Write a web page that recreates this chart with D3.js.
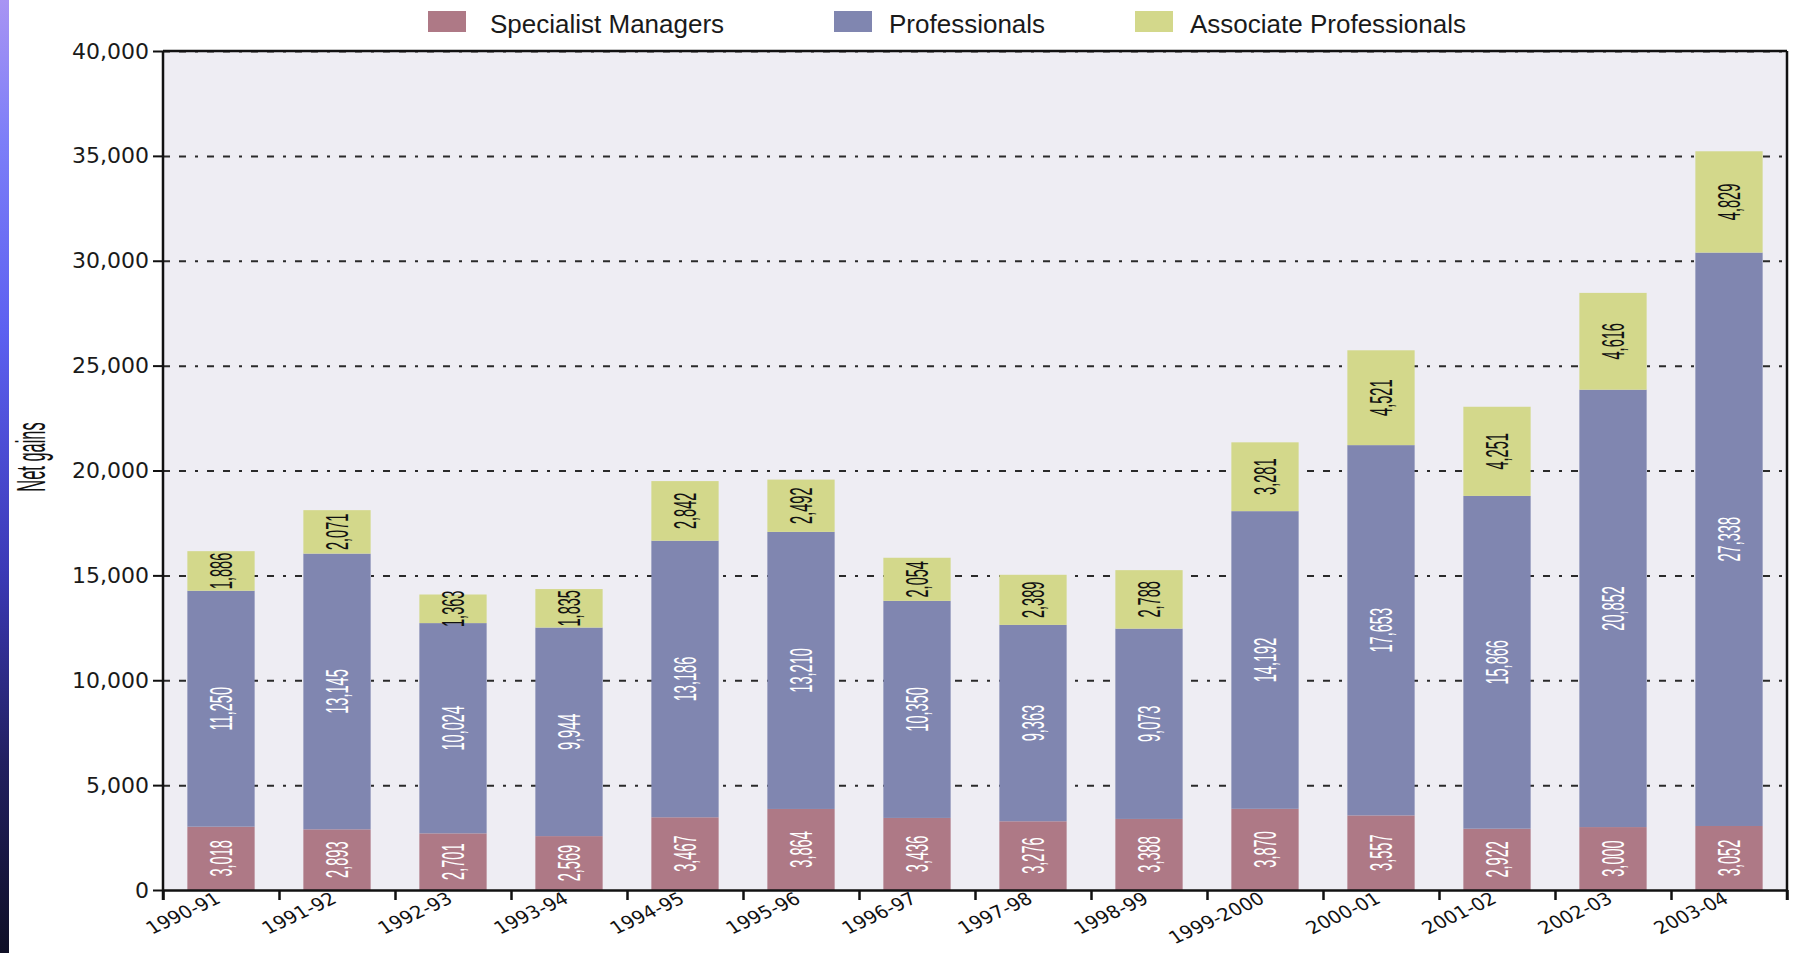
<!DOCTYPE html>
<html>
<head>
<meta charset="utf-8">
<script src="https://cdn.jsdelivr.net/npm/d3@7"></script>
<style>
  html, body { margin: 0; padding: 0; background: #fff; }
  svg { display: block; }
</style>
</head>
<body>
<script>
// data
const categories = ["1990-91", "1991-92", "1992-93", "1993-94", "1994-95", "1995-96", "1996-97",
  "1997-98", "1998-99", "1999-2000", "2000-01", "2001-02", "2002-03", "2003-04"];
const specialistManagers = [3018, 2893, 2701, 2569, 3467, 3864, 3436, 3276, 3388, 3870, 3557, 2922, 3000, 3052];
const professionals = [11250, 13145, 10024, 9944, 13186, 13210, 10350, 9363, 9073, 14192, 17653, 15866, 20852, 27338];
const associateProfessionals = [1886, 2071, 1363, 1835, 2842, 2492, 2054, 2389, 2788, 3281, 4521, 4251, 4616, 4829];
const seriesNames = ["Specialist Managers", "Professionals", "Associate Professionals"];
const seriesColors = ["#ae7986", "#8086b0", "#d3d88b"];
const labelColors = ["#fff", "#fff", "#111"];
const yTicks = [0, 5000, 10000, 15000, 20000, 25000, 30000, 35000, 40000];
const yTitle = "Net gains";

const W = 1798, H = 953;
const plot = { left: 163, right: 1787, top: 51, bottom: 890 };
const legendX = [428, 834, 1135];

const svg = d3.select("body")
  .append("svg")
  .attr("width", W)
  .attr("height", H);

// blue strip down the left edge
const grad = svg.append("defs")
  .append("linearGradient")
  .attr("id", "edge")
  .attr("x1", 0).attr("y1", 0).attr("x2", 0).attr("y2", 1);
[[0, "#a894f3"], [0.15, "#7c7ef8"], [0.35, "#5c60f0"], [0.6, "#3b39b6"], [0.8, "#222060"], [1, "#0f0f26"]]
  .forEach(s => grad.append("stop").attr("offset", s[0]).attr("stop-color", s[1]));
svg.append("rect")
  .attr("x", 0).attr("y", 0)
  .attr("width", 9).attr("height", H)
  .attr("fill", "url(#edge)");

// scales
const x = d3.scaleBand()
  .domain(categories)
  .range([plot.left, plot.right])
  .paddingInner(0.42)
  .paddingOuter(0.21);
const y = d3.scaleLinear()
  .domain([0, 40000])
  .range([plot.bottom, plot.top]);
const xEdges = d3.scaleLinear()
  .domain([0, categories.length])
  .range([plot.left, plot.right]);

// plot background
svg.append("rect")
  .attr("x", plot.left).attr("y", plot.top)
  .attr("width", plot.right - plot.left)
  .attr("height", plot.bottom - plot.top)
  .attr("fill", "#eeedf3");

// grid lines
svg.append("g")
  .attr("transform", `translate(${plot.left},0)`)
  .call(d3.axisLeft(y).tickValues(yTicks.slice(1)).tickSize(-(plot.right - plot.left)).tickFormat(""))
  .call(g => g.select(".domain").remove())
  .selectAll("line")
  .attr("stroke", "#2a2a2a")
  .attr("stroke-width", 2)
  .attr("stroke-dasharray", "7,9,7,9,3,9");

// stacked bars
const rows = categories.map((c, i) => ({
  cat: c,
  [seriesNames[0]]: specialistManagers[i],
  [seriesNames[1]]: professionals[i],
  [seriesNames[2]]: associateProfessionals[i]
}));
const stacked = d3.stack().keys(seriesNames)(rows);

const layers = svg.append("g")
  .selectAll("g")
  .data(stacked)
  .join("g")
  .attr("fill", (d, i) => seriesColors[i]);

layers.selectAll("rect")
  .data(d => d)
  .join("rect")
  .attr("x", d => x(d.data.cat))
  .attr("y", d => y(d[1]))
  .attr("width", x.bandwidth())
  .attr("height", d => y(d[0]) - y(d[1]));

// value labels inside the segments (tall, narrow rotated text)
const fmt = d3.format(",");
svg.append("g")
  .selectAll("g")
  .data(stacked)
  .join("g")
  .attr("fill", (d, i) => labelColors[i])
  .selectAll("text")
  .data(d => d)
  .join("text")
  .attr("transform", d =>
    `translate(${x(d.data.cat) + x.bandwidth() / 2},${(y(d[0]) + y(d[1])) / 2}) rotate(-90) scale(0.47,1)`)
  .attr("text-anchor", "middle")
  .attr("dy", "0.36em")
  .style("font-family", "'Liberation Sans', Arial, sans-serif")
  .style("font-size", "31px")
  .text(d => fmt(d[1] - d[0]));

// x axis: ticks on the band edges
svg.append("g")
  .attr("transform", `translate(0,${plot.bottom})`)
  .call(d3.axisBottom(xEdges).tickValues(d3.range(0, categories.length + 1)).tickSize(10).tickSizeOuter(0).tickFormat(""))
  .call(g => g.select(".domain").attr("stroke", "#111").attr("stroke-width", 2.5))
  .selectAll("line")
  .attr("stroke", "#111")
  .attr("stroke-width", 2.5);

// x labels
svg.append("g")
  .selectAll("text")
  .data(categories)
  .join("text")
  .attr("transform", d => `translate(${x(d) + x.bandwidth() / 2 + 1},902) rotate(-25) skewX(12)`)
  .attr("text-anchor", "end")
  .attr("fill", "#111")
  .style("font-family", "'DejaVu Sans', sans-serif")
  .style("font-size", "18.5px")
  .text(d => d);

// y axis
svg.append("g")
  .attr("transform", `translate(${plot.left},0)`)
  .call(d3.axisLeft(y).tickValues(yTicks).tickSize(10).tickPadding(4).tickFormat(fmt))
  .call(g => g.select(".domain").remove())
  .call(g => g.selectAll("line").attr("stroke", "#111").attr("stroke-width", 2))
  .call(g => g.selectAll("text")
    .attr("fill", "#1a1a1a")
    .style("font-family", "'DejaVu Sans', sans-serif")
    .style("font-size", "22px"));

// frame
const frame = svg.append("g")
  .attr("stroke", "#111")
  .attr("stroke-width", 2.5);
frame.append("line")
  .attr("x1", plot.left).attr("x2", plot.left)
  .attr("y1", plot.top).attr("y2", plot.bottom + 10);
frame.append("line")
  .attr("x1", plot.right).attr("x2", plot.right)
  .attr("y1", plot.top).attr("y2", plot.bottom + 10);
frame.append("line")
  .attr("x1", plot.left).attr("x2", plot.right)
  .attr("y1", plot.top).attr("y2", plot.top);

// y title
svg.append("text")
  .attr("transform", `translate(45,457) rotate(-90) scale(0.4,1)`)
  .attr("text-anchor", "middle")
  .attr("fill", "#111")
  .style("font-family", "'Liberation Sans', Arial, sans-serif")
  .style("font-size", "41px")
  .text(yTitle);

// legend
const legend = svg.append("g");
seriesNames.forEach((name, i) => {
  legend.append("rect")
    .attr("x", legendX[i]).attr("y", 11)
    .attr("width", 38).attr("height", 21)
    .attr("fill", seriesColors[i]);
  legend.append("text")
    .attr("x", legendX[i] + (i === 0 ? 62 : 55))
    .attr("y", 33)
    .attr("fill", "#1a1a1a")
    .style("font-family", "'Liberation Sans', Arial, sans-serif")
    .style("font-size", "26px")
    .text(name);
});
</script>
</body>
</html>
